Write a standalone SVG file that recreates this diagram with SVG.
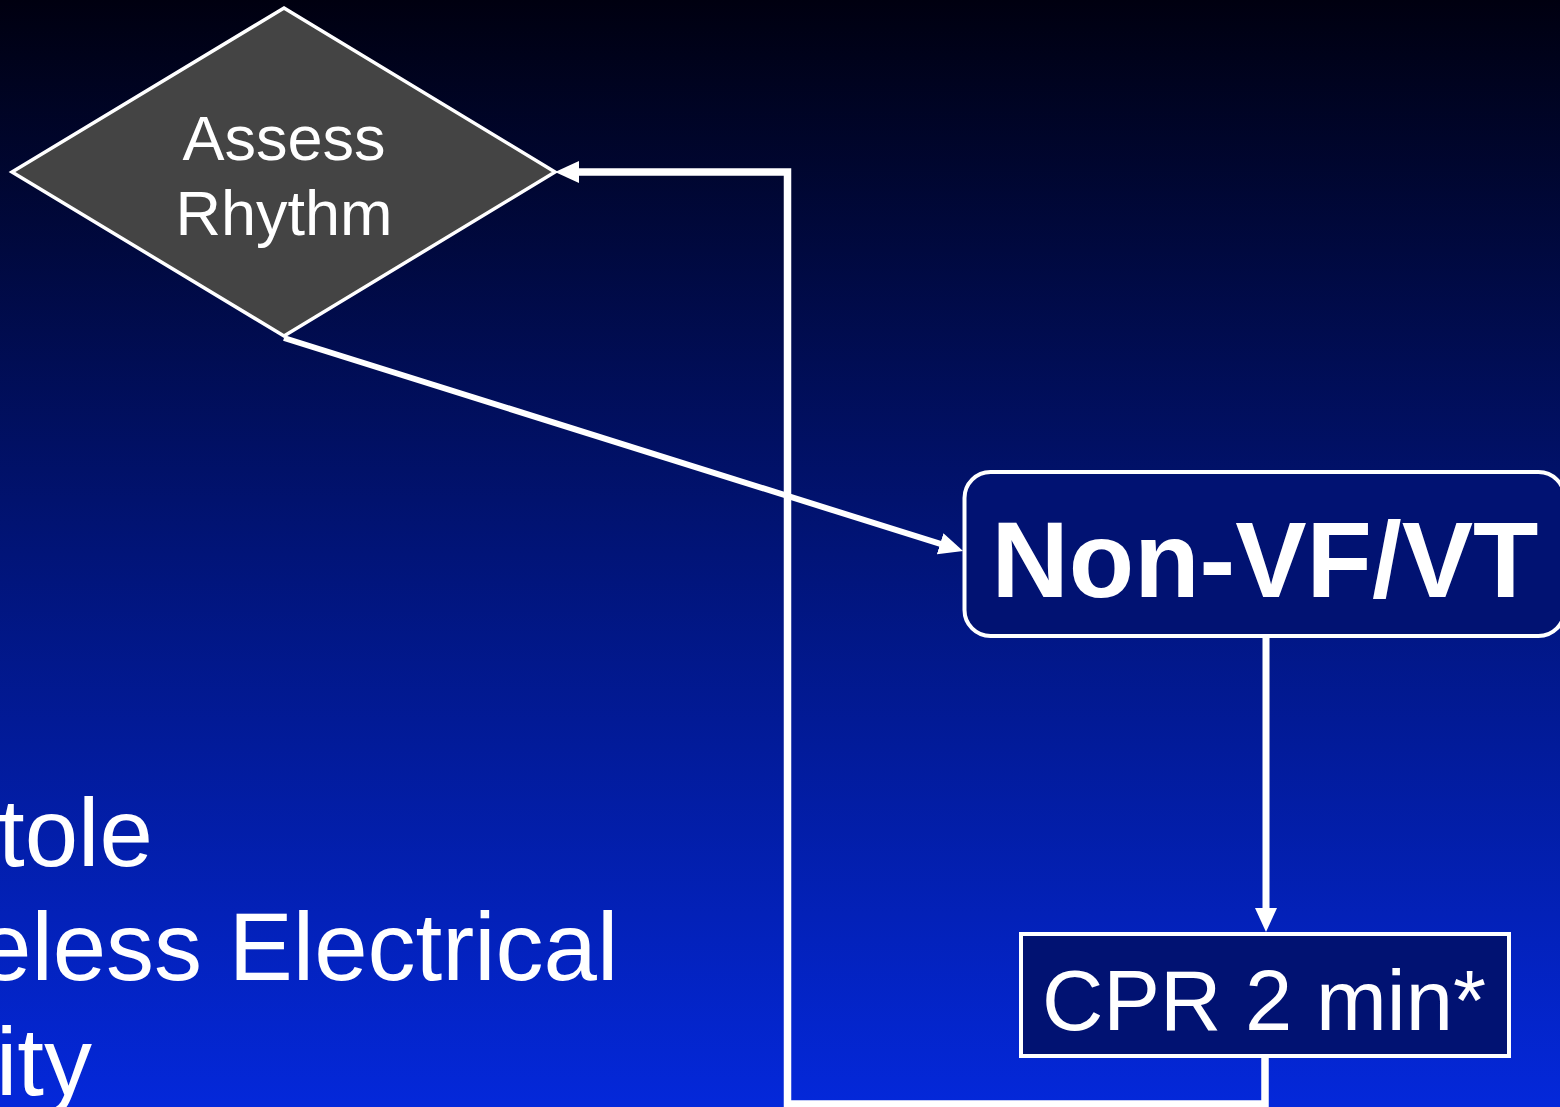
<svg xmlns="http://www.w3.org/2000/svg" width="1560" height="1107" viewBox="0 0 1560 1107">
  <defs>
    <linearGradient id="bg" x1="0" y1="0" x2="0" y2="1">
      <stop offset="0" stop-color="#000010"/>
      <stop offset="0.5" stop-color="#011478"/>
      <stop offset="1" stop-color="#0428da"/>
    </linearGradient>
    <marker id="arrow" markerUnits="userSpaceOnUse" viewBox="0 0 24 22" markerWidth="24" markerHeight="22" refX="12" refY="11" orient="auto">
      <path d="M0,0 L24,11 L0,22 z" fill="#ffffff"/>
    </marker>
    <style>
      .conn { fill: none; stroke: #ffffff; stroke-linejoin: miter; }
      .label { fill: #ffffff; font-family: "Liberation Sans", Arial, sans-serif; }
      .box { fill: #011272; stroke: #ffffff; }
    </style>
  </defs>

  <rect x="0" y="0" width="1560" height="1107" fill="url(#bg)"/>

  <!-- bullet list text, clipped by the left edge -->
  <g id="rhythm-list" class="label" font-size="96">
    <text x="-2" y="866">tole</text>
    <text x="-22" y="980">eless Electrical</text>
    <text x="-4" y="1095">ity</text>
  </g>

  <g id="connectors">
    <!-- Assess Rhythm -> Non-VF/VT -->
    <path class="conn" stroke-width="6" d="M284,338 L951.6,547.4" marker-end="url(#arrow)"/>
    <!-- Non-VF/VT -> CPR -->
    <path class="conn" stroke-width="7" d="M1266,637 V920" marker-end="url(#arrow)"/>
    <!-- CPR loop back to Assess Rhythm -->
    <path class="conn" stroke-width="7.5" d="M1265,1056 V1104 H787.5 V172 H567" marker-end="url(#arrow)"/>
  </g>

  <g id="assess-rhythm">
    <polygon points="284,8 555,172 284,336 12,172" fill="#444444" stroke="#ffffff" stroke-width="3.5"/>
    <text class="label" font-size="63" text-anchor="middle" x="284" y="160">Assess</text>
    <text class="label" font-size="63" text-anchor="middle" x="284" y="235">Rhythm</text>
  </g>

  <g id="non-vf-vt">
    <rect class="box" x="964.5" y="472" width="600" height="164" rx="26" stroke-width="4"/>
    <text class="label" font-size="107" font-weight="bold" text-anchor="middle" x="1265" y="597">Non-VF/VT</text>
  </g>

  <g id="cpr">
    <rect class="box" x="1021" y="934" width="488" height="122" stroke-width="4"/>
    <text class="label" font-size="85" text-anchor="middle" x="1264" y="1030">CPR 2 min*</text>
  </g>
</svg>
